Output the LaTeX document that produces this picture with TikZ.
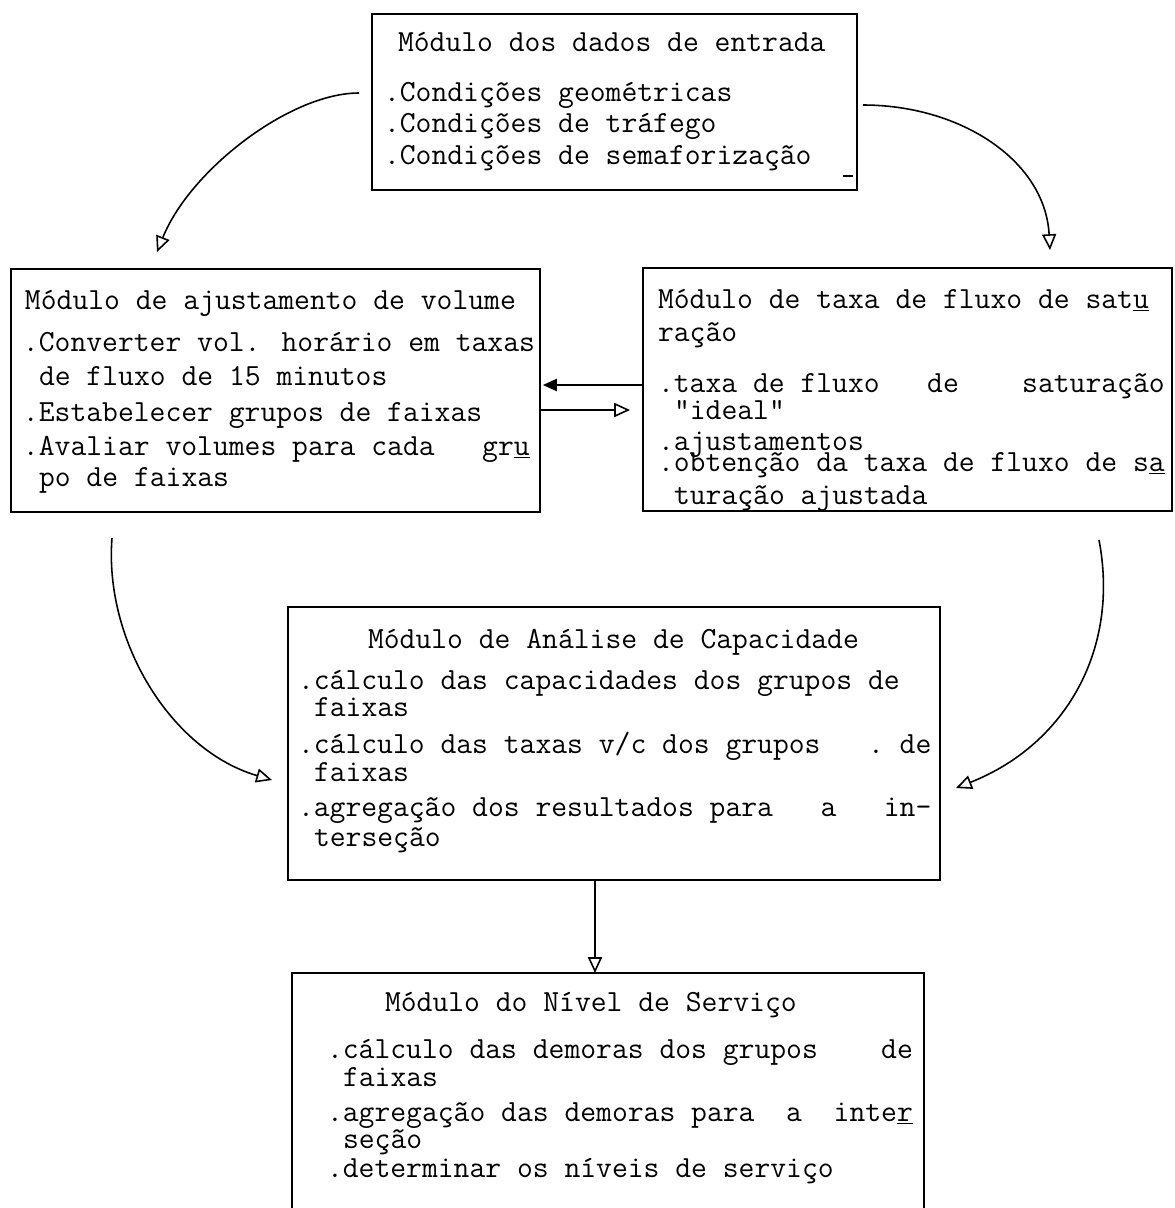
\documentclass[tikz,border=0pt]{standalone}
\usetikzlibrary{arrows.meta}
\newcommand\tyfont{\fontsize{17.5}{20}\selectfont\ttfamily}
\begin{document}
\begin{tikzpicture}[x=0.02cm,y=-0.02cm,
  box/.style={draw, line width=1pt, inner sep=0pt, outer sep=0pt, anchor=north west},
  txt/.style={anchor=base west, inner sep=0pt, outer sep=0pt, font=\tyfont},
  arr/.style={line width=0.9pt, -{Triangle[open,length=9pt,width=8pt]}},
  arrf/.style={line width=0.9pt, -{Triangle[length=8pt,width=7pt]}}]
\useasboundingbox (0,0) rectangle (1175,1208);
\clip (0,0) rectangle (1175,1208);
% boxes
\node[box, minimum width=9.7cm, minimum height=3.52cm] (b1) at (372,14) {};
\node[box, minimum width=10.58cm, minimum height=4.86cm] (b2) at (11,269) {};
\node[box, minimum width=10.58cm, minimum height=4.86cm] (b3) at (643,268) {};
\node[box, minimum width=13.04cm, minimum height=5.46cm] (b4) at (288,607) {};
\node[box, minimum width=12.64cm, minimum height=6cm] (b5) at (292,973) {};
% top box text
\node[txt] (t1) at (398,51) {Módulo dos dados de entrada};
\node[txt] (t2) at (384,101) {.Condições geométricas};
\node[txt] (t3) at (384,132) {.Condições de tráfego};
\node[txt] (t4) at (384,164) {.Condições de semaforização};
\draw[line width=1pt] (843,176) -- (853,176);
% left box text
\node[txt] (l1) at (25,309) {Módulo de ajustamento de volume};
\node[txt] (l2) at (23,351) {.Converter vol. horário em taxas};
\node[txt] (l3) at (39,385) {de fluxo de 15 minutos};
\node[txt] (l4) at (23,421) {.Estabelecer grupos de faixas};
\node[txt] (l5) at (23,455) {.Avaliar volumes para cada\ \ \ gr\underline{u}};
\node[txt] (l6) at (39,486) {po de faixas};
% right box text
\node[txt] (r1) at (658,308) {Módulo de taxa de fluxo de sat\underline{u}};
\node[txt] (r2) at (658,341) {ração};
\node[txt] (r3) at (658,392) {.taxa de fluxo\ \ \ de\ \ \ \ saturação};
\node[txt] (r4) at (674,419) {"ideal"};
\node[txt] (r5) at (658,450) {.ajustamentos};
\node[txt] (r6) at (658,471) {.obtenção da taxa de fluxo de s\underline{a}};
\node[txt] (r7) at (674,504) {turação ajustada};
% capacity box text
\node[txt] (c1) at (368,648) {Módulo de Análise de Capacidade};
\node[txt] (c2) at (298,689) {.cálculo das capacidades dos grupos de};
\node[txt] (c3) at (314,716) {faixas};
\node[txt] (c4) at (298,753) {.cálculo das taxas v/c dos grupos\ \ \ .\ de};
\node[txt] (c5) at (314,781) {faixas};
\node[txt] (c6) at (298,816) {.agregação dos resultados para\ \ \ a\ \ \ in-};
\node[txt] (c7) at (314,846) {terseção};
% service level box text
\node[txt] (n1) at (385,1011) {Módulo do Nível de Serviço};
\node[txt] (n2) at (327,1058) {.cálculo das demoras dos grupos\ \ \ \ de};
\node[txt] (n3) at (343,1086) {faixas};
\node[txt] (n4) at (327,1121) {.agregação das demoras para\ \ a\ \ inte\underline{r}};
\node[txt] (n5) at (343,1148) {seção};
\node[txt] (n6) at (327,1177) {.determinar os níveis de serviço};
% connectors
\coordinate (s1) at (359,93); \coordinate (e1) at (157,252);
\draw[arr] (s1) .. controls (290,93) and (190,170) .. (e1);
\coordinate (s2) at (863,105); \coordinate (e2) at (1050,250);
\draw[arr] (s2) .. controls (960,105) and (1045,160) .. (e2);
\coordinate (h1) at (0,385); \coordinate (h2) at (0,410);
\draw[arrf] (b3.west |- h1) -- ([xshift=0.06cm]b2.east |- h1);
\draw[arr] (b2.east |- h2) -- ([xshift=-0.26cm]b3.west |- h2);
\coordinate (s4) at (112,538); \coordinate (e4) at (272,780);
\draw[arr] (s4) .. controls (104,640) and (170,750) .. (e4);
\coordinate (s5) at (1099,540); \coordinate (e5) at (956,788);
\draw[arr] (s5) .. controls (1120,650) and (1065,745) .. (e5);
\coordinate (v) at (595,0);
\draw[arr] (b4.south -| v) -- (b5.north -| v);
\end{tikzpicture}
\end{document}
